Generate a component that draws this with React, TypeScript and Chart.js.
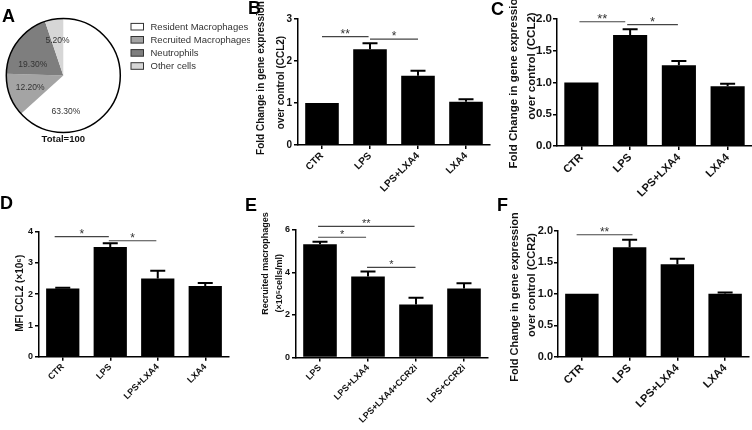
import React, { useEffect, useRef } from "react";
import { Chart, registerables } from "chart.js";

Chart.register(...registerables);

const FONT = "'Liberation Sans', Arial, Helvetica, sans-serif";
Chart.defaults.font.family = FONT;

// ---------- Panel A ----------
const pieLabels = ["Resident Macrophages", "Recruited Macrophages", "Neutrophils", "Other cells"];
const pieValues = [63.3, 12.2, 19.3, 5.2];
const pieColors = ["#ffffff", "#a4a4a4", "#7e7e7e", "#d6d6d6"];
const pieTotalText = "Total=100";

// ---------- Panel B ----------
const bCategories = ["CTR", "LPS", "LPS+LXA4", "LXA4"];
const bMeans = [1.0, 2.28, 1.65, 1.03];
const bSEM = [0, 0.14, 0.12, 0.06];
const bTicks = [0, 1, 2, 3];
const bTitle = ["Fold Change in gene expression", "over control (CCL2)"];
const bSig = [
  { from: 0, to: 0.97, y: 2.58, mark: "**" },
  { from: 1.0, to: 2.0, y: 2.52, mark: "*" },
];

// ---------- Panel C ----------
const cCategories = ["CTR", "LPS", "LPS+LXA4", "LXA4"];
const cMeans = [1.0, 1.75, 1.27, 0.94];
const cSEM = [0, 0.09, 0.07, 0.04];
const cTicks = [0, 0.5, 1.0, 1.5, 2.0];
const cTitle = ["Fold Change in gene expression", "over control (CCL2)"];
const cSig = [
  { from: -0.04, to: 0.9, y: 1.957, mark: "**" },
  { from: 0.94, to: 1.98, y: 1.91, mark: "*" },
];

// ---------- Panel D ----------
const dCategories = ["CTR", "LPS", "LPS+LXA4", "LXA4"];
const dMeans = [2.18, 3.51, 2.5, 2.26];
const dSEM = [0.03, 0.12, 0.25, 0.1];
const dTicks = [0, 1, 2, 3, 4];
const dTitle = ["MFI CCL2 (×10⁶)"];
const dSig = [
  { from: -0.17, to: 0.97, y: 3.84, mark: "*" },
  { from: 0.97, to: 1.97, y: 3.71, mark: "*" },
];

// ---------- Panel E ----------
const eCategories = ["LPS", "LPS+LXA4", "LPS+LXA4+CCR2i", "LPS+CCR2i"];
const eMeans = [5.33, 3.81, 2.5, 3.25];
const eSEM = [0.12, 0.24, 0.31, 0.25];
const eTicks = [0, 2, 4, 6];
const eTitle = ["Recruited macrophages", "(×10⁵cells/ml)"];
const eSig = [
  { from: -0.04, to: 1.97, y: 6.17, mark: "**" },
  { from: -0.04, to: 0.96, y: 5.66, mark: "*" },
  { from: 0.98, to: 1.99, y: 4.24, mark: "*" },
];

// ---------- Panel F ----------
const fCategories = ["CTR", "LPS", "LPS+LXA4", "LXA4"];
const fMeans = [1.0, 1.74, 1.47, 1.0];
const fSEM = [0, 0.12, 0.09, 0.02];
const fTicks = [0, 0.5, 1.0, 1.5, 2.0];
const fTitle = ["Fold Change in gene expression", "over control (CCR2)"];
const fSig = [{ from: -0.11, to: 1.06, y: 1.94, mark: "**" }];

type Sig = { from: number; to: number; y: number; mark: string };

const errorBarPlugin = {
  id: "errorBars",
  afterDatasetsDraw(chart: any, _args: any, opts: any) {
    const meta = chart.getDatasetMeta(0);
    const ys = chart.scales.y;
    const ctx = chart.ctx;
    const data = chart.data.datasets[0].data as number[];
    ctx.save();
    ctx.strokeStyle = "#000";
    ctx.lineWidth = 2;
    (opts.errors as number[]).forEach((e, i) => {
      if (!e) return;
      const bar = meta.data[i];
      const yV = ys.getPixelForValue(data[i]);
      const yT = ys.getPixelForValue(data[i] + e);
      ctx.beginPath();
      ctx.moveTo(bar.x, yV);
      ctx.lineTo(bar.x, yT);
      ctx.moveTo(bar.x - 7.5, yT);
      ctx.lineTo(bar.x + 7.5, yT);
      ctx.stroke();
    });
    ctx.restore();
  },
};

const sigPlugin = {
  id: "sigBars",
  afterDraw(chart: any, _args: any, opts: any) {
    const xs = chart.scales.x;
    const ys = chart.scales.y;
    const ctx = chart.ctx;
    ctx.save();
    (opts.items as Sig[]).forEach((s) => {
      const x1 = xs.getPixelForValue(s.from);
      const x2 = xs.getPixelForValue(s.to);
      const y = ys.getPixelForValue(s.y);
      ctx.strokeStyle = "#444";
      ctx.lineWidth = 1.2;
      ctx.beginPath();
      ctx.moveTo(x1, y);
      ctx.lineTo(x2, y);
      ctx.stroke();
      ctx.fillStyle = "#333";
      ctx.font = `${opts.size}px ${FONT}`;
      ctx.textAlign = "center";
      ctx.textBaseline = "alphabetic";
      ctx.fillText(s.mark, (x1 + x2) / 2, y + 1);
    });
    ctx.restore();
  },
};

const yTitlePlugin = {
  id: "yTitle",
  afterDraw(chart: any, _args: any, opts: any) {
    const ctx = chart.ctx;
    ctx.save();
    ctx.fillStyle = "#111";
    ctx.font = `bold ${opts.size}px ${FONT}`;
    ctx.textAlign = "center";
    ctx.textBaseline = "middle";
    (opts.lines as string[]).forEach((line, i) => {
      ctx.save();
      ctx.translate(opts.x[i], opts.y[i]);
      ctx.rotate(-Math.PI / 2);
      ctx.fillText(line, 0, 0);
      ctx.restore();
    });
    ctx.restore();
  },
};

type BarProps = {
  left: number;
  top: number;
  width: number;
  height: number;
  area: { l: number; r: number; t: number; b: number };
  categories: string[];
  means: number[];
  sem: number[];
  ticks: number[];
  decimals: number;
  sig: Sig[];
  title: string[];
  titleSize: number;
  titleX: number[];
  titleY: number[];
  tickSize: number;
  tickPad: number;
  catSize: number;
  starSize: number;
};

function BarPanel(p: BarProps) {
  const ref = useRef<HTMLCanvasElement | null>(null);
  useEffect(() => {
    if (!ref.current) return;
    const yMax = p.ticks[p.ticks.length - 1];
    const chart = new Chart(ref.current, {
      type: "bar",
      data: {
        labels: p.categories,
        datasets: [
          {
            data: p.means,
            backgroundColor: "#000",
            borderWidth: 0,
            barPercentage: 0.7,
            categoryPercentage: 1,
          },
        ],
      },
      options: {
        responsive: false,
        animation: false,
        layout: { padding: { left: 0, top: p.area.t, right: p.width - p.area.r, bottom: 0 } },
        plugins: {
          legend: { display: false },
          tooltip: { enabled: false },
          errorBars: { errors: p.sem },
          sigBars: { items: p.sig, size: p.starSize },
          yTitle: {
            lines: p.title,
            size: p.titleSize,
            x: p.titleX.map((v) => v - p.left),
            y: p.titleY.map((v) => v - p.top),
          },
        } as any,
        scales: {
          x: {
            offset: true,
            grid: {
              display: true,
              offset: false,
              drawOnChartArea: false,
              drawTicks: true,
              tickLength: 4,
              color: "#000",
              lineWidth: 1.5,
            },
            border: { display: true, color: "#000", width: 1.5 },
            ticks: {
              minRotation: 45,
              maxRotation: 45,
              autoSkip: false,
              padding: 1,
              color: "#111",
              font: { size: p.catSize, weight: "bold" },
            },
            afterFit: (s: any) => {
              s.height = p.height - p.area.b;
            },
          },
          y: {
            min: 0,
            max: yMax,
            afterBuildTicks: (s: any) => {
              s.ticks = p.ticks.map((v) => ({ value: v }));
            },
            ticks: {
              padding: p.tickPad,
              color: "#111",
              font: { size: p.tickSize, weight: "bold" },
              callback: (v: any) => Number(v).toFixed(p.decimals),
            },
            grid: {
              display: true,
              drawOnChartArea: false,
              drawTicks: true,
              tickLength: 4,
              color: "#000",
              lineWidth: 1.5,
            },
            border: { display: true, color: "#000", width: 1.5 },
            title: { display: false },
            afterFit: (s: any) => {
              s.width = p.area.l;
            },
          },
        },
      } as any,
      plugins: [errorBarPlugin, sigPlugin, yTitlePlugin],
    });
    return () => chart.destroy();
  }, []);
  return (
    <canvas
      ref={ref}
      width={p.width}
      height={p.height}
      style={{ position: "absolute", left: p.left, top: p.top, width: p.width, height: p.height }}
    />
  );
}

const pieExtrasPlugin = {
  id: "pieExtras",
  afterDraw(chart: any, _args: any, opts: any) {
    const ctx = chart.ctx;
    const meta = chart.getDatasetMeta(0);
    const a0 = meta.data[0];
    const cx = a0.x;
    const cy = a0.y;
    const R = a0.outerRadius;
    ctx.save();
    ctx.strokeStyle = "#000";
    ctx.lineWidth = 1.5;
    ctx.beginPath();
    ctx.arc(cx, cy, R, 0, Math.PI * 2);
    ctx.stroke();
    ctx.fillStyle = "#333";
    ctx.font = `8.5px ${FONT}`;
    ctx.textAlign = "center";
    ctx.textBaseline = "middle";
    const values = chart.data.datasets[0].data as number[];
    meta.data.forEach((arc: any, i: number) => {
      const pl = opts.placement[i];
      let ang = (arc.startAngle + arc.endAngle) / 2;
      let f = 0.62;
      if (pl) {
        ang = -Math.PI / 2 + (pl[0] * Math.PI) / 180;
        f = pl[1];
      }
      ctx.fillText(values[i].toFixed(2) + "%", cx + Math.cos(ang) * R * f, cy + Math.sin(ang) * R * f);
    });
    ctx.fillStyle = "#111";
    ctx.font = `bold 9.5px ${FONT}`;
    ctx.fillText(pieTotalText, cx, cy + R + 7);
    const labels = chart.data.labels as string[];
    const colors = chart.data.datasets[0].backgroundColor as string[];
    ctx.font = `9.5px ${FONT}`;
    ctx.textAlign = "left";
    labels.forEach((lab, i) => {
      const y = 26.7 + i * 13.1;
      ctx.fillStyle = colors[i];
      ctx.fillRect(131, y - 3.3, 12.5, 6.6);
      ctx.strokeStyle = "#333";
      ctx.lineWidth = 1;
      ctx.strokeRect(131, y - 3.3, 12.5, 6.6);
      ctx.fillStyle = "#333";
      ctx.fillText(lab, 150.5, y + 0.5);
    });
    ctx.restore();
  },
};

function PiePanel() {
  const ref = useRef<HTMLCanvasElement | null>(null);
  useEffect(() => {
    if (!ref.current) return;
    const chart = new Chart(ref.current, {
      type: "pie",
      data: {
        labels: pieLabels,
        datasets: [{ data: pieValues, backgroundColor: pieColors, borderWidth: 0 }],
      },
      options: {
        responsive: false,
        animation: false,
        layout: { padding: { left: 6.3, right: 129.7, top: 18.5, bottom: 62.5 } },
        plugins: {
          legend: { display: false },
          tooltip: { enabled: false },
          pieExtras: { placement: [[176, 0.64], null, [290, 0.57], null] },
        } as any,
      } as any,
      plugins: [pieExtrasPlugin],
    });
    return () => chart.destroy();
  }, []);
  return (
    <canvas
      ref={ref}
      width={250}
      height={195}
      style={{ position: "absolute", left: 0, top: 0, width: 250, height: 195 }}
    />
  );
}

const letterStyle: React.CSSProperties = {
  position: "absolute",
  font: `bold 18px ${FONT}`,
  lineHeight: "18px",
  color: "#000",
  margin: 0,
};

export default function App() {
  return (
    <div
      style={{
        position: "fixed",
        left: 0,
        top: 0,
        width: 752,
        height: 430,
        background: "#fff",
        overflow: "hidden",
      }}
    >
      <PiePanel />
      <BarPanel
        left={250} top={0} width={250} height={200}
        area={{ l: 48, r: 240, t: 19, b: 145 }}
        categories={bCategories} means={bMeans} sem={bSEM} ticks={bTicks} decimals={0} sig={bSig}
        title={bTitle} titleSize={10} titleX={[261.7, 281]} titleY={[78, 82.5]}
        tickSize={10} tickPad={2} catSize={10} starSize={12}
      />
      <BarPanel
        left={500} top={0} width={252} height={200}
        area={{ l: 57, r: 749, t: 19, b: 146 }}
        categories={cCategories} means={cMeans} sem={cSEM} ticks={cTicks} decimals={1} sig={cSig}
        title={cTitle} titleSize={11.5} titleX={[513.5, 531.5]} titleY={[80, 66]}
        tickSize={11.5} tickPad={1} catSize={11} starSize={13}
      />
      <BarPanel
        left={0} top={195} width={250} height={235}
        area={{ l: 39, r: 229, t: 36.7, b: 161.7 }}
        categories={dCategories} means={dMeans} sem={dSEM} ticks={dTicks} decimals={0} sig={dSig}
        title={dTitle} titleSize={10} titleX={[20]} titleY={[293.3]}
        tickSize={9} tickPad={2} catSize={9} starSize={12}
      />
      <BarPanel
        left={250} top={195} width={250} height={235}
        area={{ l: 46, r: 238, t: 35, b: 162.5 }}
        categories={eCategories} means={eMeans} sem={eSEM} ticks={eTicks} decimals={0} sig={eSig}
        title={eTitle} titleSize={9} titleX={[266, 280]} titleY={[263.4, 283.3]}
        tickSize={9} tickPad={2} catSize={9} starSize={11}
      />
      <BarPanel
        left={500} top={195} width={252} height={235}
        area={{ l: 58, r: 249, t: 36, b: 161.7 }}
        categories={fCategories} means={fMeans} sem={fSEM} ticks={fTicks} decimals={1} sig={fSig}
        title={fTitle} titleSize={11} titleX={[515, 531.5]} titleY={[297, 285]}
        tickSize={11} tickPad={1} catSize={11} starSize={12}
      />
      <div style={{ ...letterStyle, left: 2, top: 6.5 }}>A</div>
      <div style={{ ...letterStyle, left: 248, top: -1.5 }}>B</div>
      <div style={{ ...letterStyle, left: 491, top: 0 }}>C</div>
      <div style={{ ...letterStyle, left: 0, top: 194 }}>D</div>
      <div style={{ ...letterStyle, left: 245, top: 196 }}>E</div>
      <div style={{ ...letterStyle, left: 497, top: 196 }}>F</div>
    </div>
  );
}
